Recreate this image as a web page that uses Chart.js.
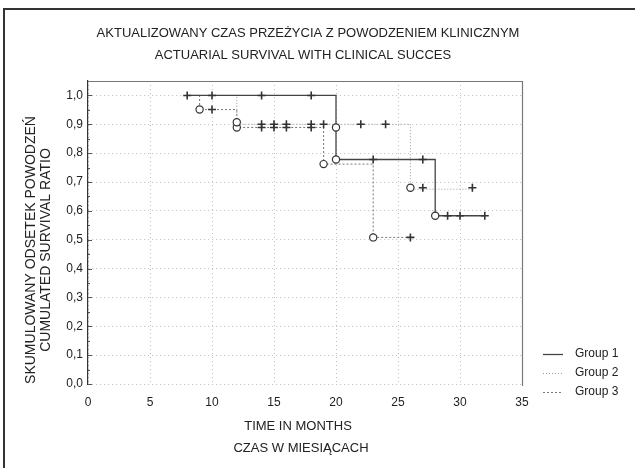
<!DOCTYPE html>
<html>
<head>
<meta charset="utf-8">
<script src="https://cdn.jsdelivr.net/npm/chart.js@4.4.1/dist/chart.umd.min.js"></script>
<style>
  html, body { margin: 0; padding: 0; background: #fff; }
  #wrap { position: relative; width: 635px; height: 468px; }
</style>
</head>
<body>
<div id="wrap"><canvas id="mycanvas" width="635" height="468"></canvas></div>
<script>
// chart values
var titleLines = ['AKTUALIZOWANY CZAS PRZEŻYCIA Z POWODZENIEM KLINICZNYM', 'ACTUARIAL SURVIVAL WITH CLINICAL SUCCES'];
var xTitleLines = ['TIME IN MONTHS', 'CZAS W MIESIĄCACH'];
var yTitleLines = ['SKUMULOWANY ODSETEK POWODZEŃ', 'CUMULATED SURVIVAL RATIO'];
var groupNames = ['Group 1', 'Group 2', 'Group 3'];

var xTicks = [0, 5, 10, 15, 20, 25, 30, 35];
var yTicks = [0, 0.1, 0.2, 0.3, 0.4, 0.5, 0.6, 0.7, 0.8, 0.9, 1.0];

// step curves
var g1Time = [8, 20, 20, 28, 32];
var g1Surv = [1.0, 0.889, 0.778, 0.583, 0.583];
var g2Time = [8, 12, 26, 31];
var g2Surv = [1.0, 0.9, 0.675, 0.675];
var g3Time = [8, 9, 12, 19, 23, 26];
var g3Surv = [1.0, 0.951, 0.889, 0.762, 0.508, 0.508];

// complete observations (circles)
var g1EventTime = [20, 20, 28];
var g1EventSurv = [0.889, 0.778, 0.583];
var g2EventTime = [12, 26];
var g2EventSurv = [0.907, 0.68];
var g3EventTime = [9, 12, 19, 23];
var g3EventSurv = [0.951, 0.889, 0.762, 0.508];

// censored observations (crosses)
var g1CensTime = [8, 10, 14, 18, 23, 27, 29, 30, 32];
var g1CensSurv = [1.0, 1.0, 1.0, 1.0, 0.778, 0.778, 0.583, 0.583, 0.583];
var g2CensTime = [14, 15, 16, 18, 19, 22, 24, 27, 31];
var g2CensSurv = [0.9, 0.9, 0.9, 0.9, 0.9, 0.9, 0.9, 0.68, 0.68];
var g3CensTime = [10, 14, 15, 16, 18, 26];
var g3CensSurv = [0.951, 0.889, 0.889, 0.889, 0.889, 0.508];

var FONT = '"Liberation Sans", Arial, sans-serif';

function pts(xs, ys) {
    var out = [];
    for (var i in xs) {
        out.push({x: xs[i], y: ys[i]});
    }
    return out;
}

function stepLine(label, xs, ys, color, dash, width) {
    return {
        label: label, data: pts(xs, ys), showLine: true, stepped: true,
        borderColor: color, borderWidth: width, borderDash: dash,
        pointRadius: 0, fill: false, order: 2
    };
}

function marks(xs, ys, style) {
    return {
        label: '', data: pts(xs, ys), showLine: false,
        pointStyle: style, pointRadius: style == 'circle' ? 3.6 : 4,
        pointBorderWidth: style == 'circle' ? 1.2 : 1.6,
        pointBorderColor: '#333', pointBackgroundColor: '#fff', order: 1
    };
}

var frameText = {
    id: 'frameText',
    beforeDraw: function(chart) {
        var c = chart.ctx;
        c.save();
        c.fillStyle = '#fff';
        c.fillRect(0, 0, chart.width, chart.height);
        c.restore();
    },
    afterDraw: function(chart) {
        var c = chart.ctx, a = chart.chartArea;
        c.save();
        // outer frame
        c.strokeStyle = '#333';
        c.lineWidth = 2;
        c.beginPath();
        c.moveTo(4, chart.height);
        c.lineTo(4, 9);
        c.lineTo(chart.width, 9);
        c.stroke();
        // plot frame top & right
        c.strokeStyle = '#777';
        c.lineWidth = 1.2;
        c.beginPath();
        c.moveTo(a.left, a.top + 0.5);
        c.lineTo(a.right + 0.5, a.top + 0.5);
        c.lineTo(a.right + 0.5, a.bottom + 2);
        c.stroke();
        // small ticks on the left axis
        c.strokeStyle = '#555';
        c.lineWidth = 1;
        var ys = chart.scales.y;
        for (var k = 0; k <= 20; k++) {
            var py = Math.round(ys.getPixelForValue(k * 0.05)) + 0.5;
            c.beginPath();
            c.moveTo(a.left, py);
            c.lineTo(a.left + (k % 2 == 0 ? 4 : 2), py);
            c.stroke();
        }

        c.fillStyle = '#222';
        c.textAlign = 'center';
        c.textBaseline = 'middle';
        c.font = '13px ' + FONT;
        c.fillText(titleLines[0], 308, 33);
        c.fillText(titleLines[1], 303, 55);
        c.fillText(xTitleLines[0], 298, 426);
        c.fillText(xTitleLines[1], 301, 448);

        c.save();
        c.font = '14px ' + FONT;
        c.translate(31, 250);
        c.rotate(-Math.PI / 2);
        c.fillText(yTitleLines[0], 0, 0);
        c.fillText(yTitleLines[1], 0, 15);
        c.restore();

        // legend
        var rows = [354, 373, 392];
        c.textAlign = 'left';
        c.font = '12px ' + FONT;
        for (var i = 0; i < 3; i++) {
            var ds = chart.data.datasets[i];
            c.strokeStyle = ds.borderColor;
            c.lineWidth = ds.borderWidth;
            c.setLineDash(ds.borderDash);
            c.beginPath();
            c.moveTo(543, rows[i] + 0.5);
            c.lineTo(563, rows[i] + 0.5);
            c.stroke();
            c.setLineDash([]);
            c.fillStyle = '#222';
            c.fillText(groupNames[i], 575, rows[i]);
        }
        c.restore();
    }
};

var ctx = document.getElementById('mycanvas');
var chart = new Chart(ctx, {
    type: 'scatter',
    data: {
        datasets: [
            stepLine(groupNames[0], g1Time, g1Surv, '#444', [], 1.3),
            stepLine(groupNames[1], g2Time, g2Surv, '#999', [1, 2], 1),
            stepLine(groupNames[2], g3Time, g3Surv, '#777', [2, 2], 1),
            marks(g1EventTime, g1EventSurv, 'circle'),
            marks(g2EventTime, g2EventSurv, 'circle'),
            marks(g3EventTime, g3EventSurv, 'circle'),
            marks(g1CensTime, g1CensSurv, 'cross'),
            marks(g2CensTime, g2CensSurv, 'cross'),
            marks(g3CensTime, g3CensSurv, 'cross')
        ]
    },
    options: {
        responsive: false,
        animation: false,
        layout: { padding: { top: 81, right: 113, bottom: 0, left: 0 } },
        plugins: { legend: { display: false }, title: { display: false }, tooltip: { enabled: false } },
        scales: {
            x: {
                type: 'linear', min: 0, max: 35,
                afterFit: function(s) { s.height = 84; },
                afterBuildTicks: function(s) { s.ticks = xTicks.map(function(v) { return {value: v}; }); },
                grid: { color: '#bdbdbd', drawTicks: false },
                border: { display: false, dash: [1, 3] },
                ticks: { padding: 11, color: '#222', font: { family: FONT, size: 12 } }
            },
            y: {
                type: 'linear', min: 0, max: 1.05,
                afterFit: function(s) { s.width = 88; },
                afterBuildTicks: function(s) { s.ticks = yTicks.map(function(v) { return {value: v}; }); },
                grid: { color: '#bdbdbd', drawTicks: false },
                border: { display: true, color: '#333', width: 1.2, dash: [1, 3] },
                ticks: {
                    padding: 5, color: '#222', font: { family: FONT, size: 12 },
                    callback: function(v) { return v.toFixed(1).replace('.', ','); }
                }
            }
        }
    },
    plugins: [frameText]
});
</script>
</body>
</html>
